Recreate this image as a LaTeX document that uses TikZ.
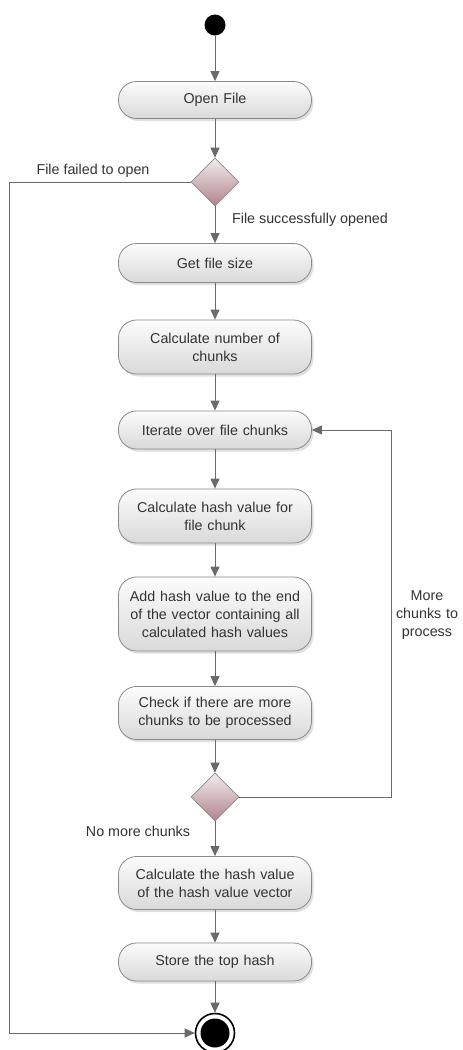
\documentclass[tikz,border=0pt]{standalone}
\usepackage{fontspec}
\setmainfont{Liberation Sans}
\usetikzlibrary{shapes.geometric,arrows.meta,shadows}
\definecolor{edgegray}{HTML}{8A8A8A}
\definecolor{linegray}{HTML}{6A6A6A}
\definecolor{txt}{HTML}{333333}
\definecolor{boxtop}{HTML}{FCFCFC}
\definecolor{boxbot}{HTML}{D9D9D9}
\definecolor{diatop}{HTML}{F3ECEE}
\definecolor{diabot}{HTML}{B0838C}
\tikzset{
  act/.style={draw=edgegray, line width=0.8pt, rounded corners=18pt, top color=boxtop, bottom color=boxbot,
    minimum width=193pt, text width=187pt, align=center, inner sep=2pt, text=txt,
    font=\fontsize{14.3}{18}\selectfont,
    drop shadow={opacity=0.25, shadow xshift=2pt, shadow yshift=-2.5pt}},
  dec/.style={diamond, draw=edgegray, line width=0.6pt, top color=diatop, bottom color=diabot,
    minimum width=48pt, minimum height=48pt, inner sep=0pt, aspect=1},
  arr/.style={draw=linegray, line width=1pt, -{Triangle[length=10pt,width=9pt]}},
  lbl/.style={text=txt, font=\fontsize{14.3}{18}\selectfont, inner sep=0pt}
}
\begin{document}
\begin{tikzpicture}[x=1pt,y=-1pt]
\useasboundingbox (0,0) rectangle (463,1050);
\fill[white] (0,0) rectangle (463,1050);

\node[circle, fill=black, minimum size=21pt, inner sep=0pt] (start) at (215,25) {};
\node[act, minimum height=37pt] (open) at (215,100) {Open File};
\node[dec] (d1) at (215,182) {};
\node[act, minimum height=39pt] (size) at (215,263) {Get file size};
\node[act, minimum height=54pt] (num) at (215,347) {Calculate number of\\chunks};
\node[act, minimum height=38pt] (iter) at (215,430) {Iterate over file chunks};
\node[act, minimum height=54pt] (hash) at (215,516) {Calculate hash value for\\file chunk};
\node[act, minimum height=74pt] (add) at (215,614) {Add hash value to the end\\of the vector containing all\\calculated hash values};
\node[act, minimum height=53pt] (check) at (215,713) {Check if there are more\\chunks to be processed};
\node[dec] (d2) at (215,797) {};
\node[act, minimum height=53pt] (top) at (215,883) {Calculate the hash value\\of the hash value vector};
\node[act, minimum height=38pt] (store) at (215,962) {Store the top hash};
\node[circle, draw=black, line width=1.6pt, fill=white, minimum size=39pt, inner sep=0pt] (end) at (215,1033) {};
\fill[black] (end.center) circle (14.5pt);

\draw[arr] (start) -- (open);
\draw[arr] (open) -- (d1);
\draw[arr] (d1) -- (size);
\draw[arr] (size) -- (num);
\draw[arr] (num) -- (iter);
\draw[arr] (iter) -- (hash);
\draw[arr] (hash) -- (add);
\draw[arr] (add) -- (check);
\draw[arr] (check) -- (d2);
\draw[arr] (d2) -- (top);
\draw[arr] (top) -- (store);
\draw[arr] (store) -- (end);

\coordinate (L) at (9,182);
\coordinate (R) at (391,797);
\draw[arr] (d1.west) -- (L) |- (end.west);
\draw[arr] (d2.east) -- (R) |- (iter.east);

\node[lbl] (l1) at (93,171) {File failed to open};
\node[lbl] (l2) at (310,220) {File successfully opened};
\node[lbl, align=center, text width=80pt] (l3) at (427,615) {More\\chunks to\\process};
\node[lbl] (l4) at (138,831) {No more chunks};
\end{tikzpicture}
\end{document}
